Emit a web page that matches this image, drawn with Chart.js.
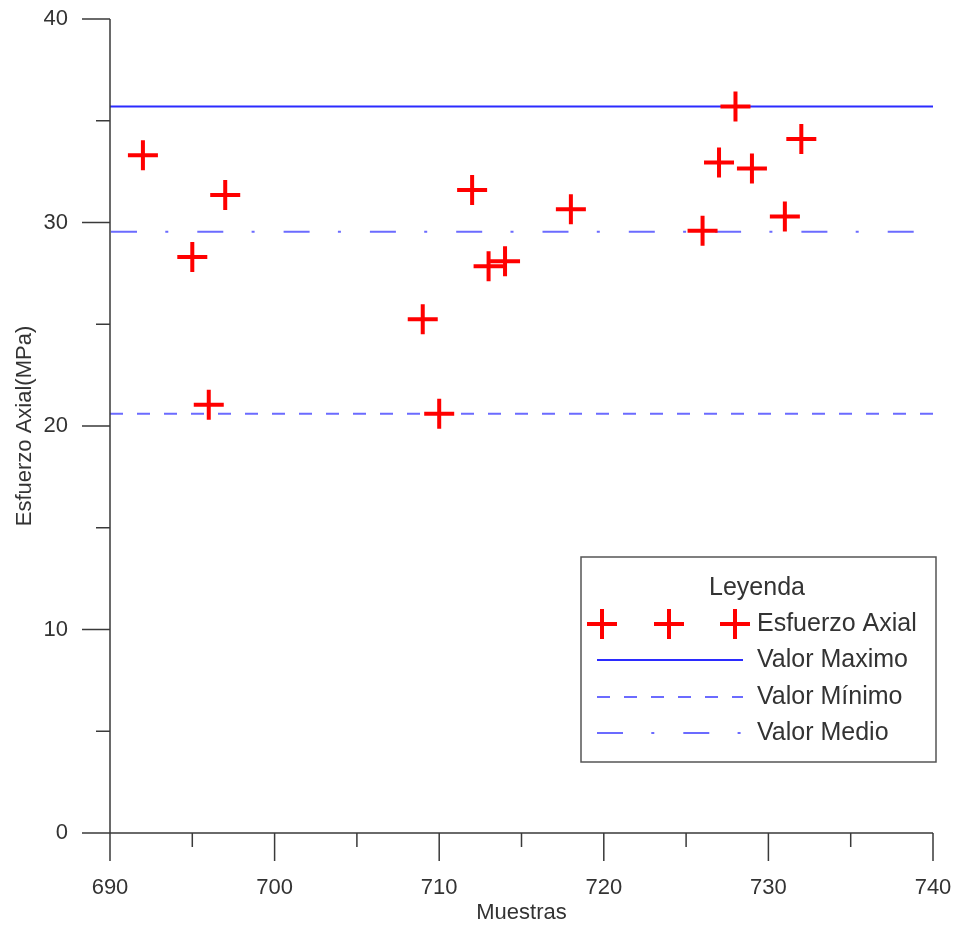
<!DOCTYPE html>
<html><head><meta charset="utf-8">
<script src="https://cdn.jsdelivr.net/npm/chart.js@4/dist/chart.umd.min.js"></script>
<style>html,body{margin:0;padding:0;background:#fff;overflow:hidden}#wrap{position:relative;width:956px;height:926px}</style>
</head><body><div id="wrap"><canvas id="c" width="956" height="926"></canvas></div>
<script>
// ---- data ----
const muestras = [692, 695, 696, 697, 709, 710, 712, 713, 714, 718, 726, 727, 728, 729, 731, 732];
const esfuerzo = [33.3, 28.3, 21.05, 31.35, 25.25, 20.6, 31.6, 27.85, 28.1, 30.65, 29.6, 32.95, 35.7, 32.65, 30.3, 34.1];
const valorMaximo = 35.7;
const valorMinimo = 20.6;
const valorMedio = 29.55;
const xRange = [690, 740];
const yRange = [0, 40];
const xTickLabels = ['690', '700', '710', '720', '730', '740'];
const yTickLabels = ['0', '10', '20', '30', '40'];
const seriesNames = ['Esfuerzo Axial', 'Valor Maximo', 'Valor Mínimo', 'Valor Medio'];
const legendTitle = 'Leyenda';
const xTitle = 'Muestras';
const yTitle = 'Esfuerzo Axial(MPa)';

const FONT = '"Liberation Sans", Arial, sans-serif';
const TXT = '#333333';
const AXIS = '#3a3a3a';
const RED = '#ff0000';
const BLUE_SOLID = '#2b2bff';
const BLUE_LIGHT = '#6b6bff';
const DASH_MIN = [13, 14];
const DASH_MED = [26, 28.3, 3, 29];

const points = muestras.map((m, i) => ({ x: m, y: esfuerzo[i] }));
const hline = v => [{ x: xRange[0], y: v }, { x: xRange[1], y: v }];

const axesPlugin = {
  id: 'axesTicks',
  afterDraw(chart) {
    const { ctx, chartArea: a, scales: { x, y } } = chart;
    ctx.save();
    ctx.strokeStyle = AXIS;
    ctx.lineWidth = 1.5;
    ctx.beginPath();
    ctx.moveTo(a.left, a.top); ctx.lineTo(a.left, a.bottom);
    ctx.moveTo(a.left, a.bottom); ctx.lineTo(a.right, a.bottom);
    x.ticks.forEach(t => {
      const px = x.getPixelForValue(t.value);
      const len = (t.value % 10 === 0) ? 28 : 14;
      ctx.moveTo(px, a.bottom); ctx.lineTo(px, a.bottom + len);
    });
    y.ticks.forEach(t => {
      const py = y.getPixelForValue(t.value);
      const len = (t.value % 10 === 0) ? 28 : 14;
      ctx.moveTo(a.left, py); ctx.lineTo(a.left - len, py);
    });
    ctx.stroke();
    ctx.restore();
  }
};

const legendPlugin = {
  id: 'boxLegend',
  afterDraw(chart) {
    const { ctx } = chart;
    const bx = 581, by = 557, bw = 355, bh = 205;
    ctx.save();
    ctx.fillStyle = '#fff';
    ctx.fillRect(bx, by, bw, bh);
    ctx.strokeStyle = '#555';
    ctx.lineWidth = 1.5;
    ctx.strokeRect(bx, by, bw, bh);
    ctx.fillStyle = TXT;
    ctx.font = '25px ' + FONT;
    ctx.textBaseline = 'middle';
    ctx.textAlign = 'center';
    ctx.fillText(legendTitle, 757, 588);
    ctx.textAlign = 'left';
    const rows = [624, 660, 697, 733];
    const tx = 757, sx0 = 597, sx1 = 743;
    ctx.strokeStyle = RED; ctx.lineWidth = 4;
    [602, 669, 735].forEach(cx => {
      ctx.beginPath();
      ctx.moveTo(cx - 15, rows[0]); ctx.lineTo(cx + 15, rows[0]);
      ctx.moveTo(cx, rows[0] - 15); ctx.lineTo(cx, rows[0] + 15);
      ctx.stroke();
    });
    const drawSample = (yy, color, dash) => {
      ctx.strokeStyle = color; ctx.lineWidth = 2; ctx.setLineDash(dash);
      ctx.beginPath(); ctx.moveTo(sx0, yy); ctx.lineTo(sx1, yy); ctx.stroke();
      ctx.setLineDash([]);
    };
    drawSample(rows[1], BLUE_SOLID, []);
    drawSample(rows[2], BLUE_LIGHT, DASH_MIN);
    drawSample(rows[3], BLUE_LIGHT, DASH_MED);
    ctx.fillStyle = TXT;
    seriesNames.forEach((n, i) => ctx.fillText(n, tx, rows[i]));
    ctx.restore();
  }
};

const noPad = s => { s.paddingTop = 0; s.paddingBottom = 0; s.paddingLeft = 0; s.paddingRight = 0; };

new Chart(document.getElementById('c'), {
  type: 'scatter',
  data: {
    datasets: [
      { label: seriesNames[0], data: points, pointStyle: 'cross', pointRadius: 15, pointHoverRadius: 15,
        borderColor: RED, backgroundColor: RED, pointBorderWidth: 4, borderWidth: 4, showLine: false },
      { type: 'line', label: seriesNames[1], data: hline(valorMaximo), borderColor: BLUE_SOLID, borderWidth: 2, pointRadius: 0, fill: false },
      { type: 'line', label: seriesNames[2], data: hline(valorMinimo), borderColor: BLUE_LIGHT, borderWidth: 2, borderDash: DASH_MIN, pointRadius: 0, fill: false },
      { type: 'line', label: seriesNames[3], data: hline(valorMedio), borderColor: BLUE_LIGHT, borderWidth: 2, borderDash: DASH_MED, borderDashOffset: -1, pointRadius: 0, fill: false }
    ]
  },
  options: {
    responsive: false,
    animation: false,
    devicePixelRatio: 1,
    layout: { padding: { left: 0, top: 19, right: 23, bottom: 0 } },
    plugins: { legend: { display: false }, tooltip: { enabled: false } },
    scales: {
      x: {
        type: 'linear', position: 'bottom', min: xRange[0], max: xRange[1],
        grid: { display: false, drawTicks: false },
        border: { display: false },
        ticks: { stepSize: 5, autoSkip: false, maxRotation: 0, padding: 42, color: TXT,
          font: { family: FONT, size: 22 },
          callback: v => xTickLabels.includes(String(v)) ? String(v) : '' },
        title: { display: true, text: xTitle, color: TXT, font: { family: FONT, size: 22 }, padding: { top: 0, bottom: 0 } },
        afterFit: s => { s.height = 93; noPad(s); }
      },
      y: {
        type: 'linear', position: 'left', min: yRange[0], max: yRange[1],
        grid: { display: false, drawTicks: false },
        border: { display: false },
        ticks: { stepSize: 5, autoSkip: false, padding: 42, color: TXT,
          font: { family: FONT, size: 22 },
          callback: v => yTickLabels.includes(String(v)) ? String(v) : '' },
        title: { display: true, text: yTitle, color: TXT, font: { family: FONT, size: 22 }, padding: { top: 12, bottom: 0 } },
        afterFit: s => { s.width = 110; noPad(s); }
      }
    }
  },
  plugins: [axesPlugin, legendPlugin]
});
</script>
</body></html>
